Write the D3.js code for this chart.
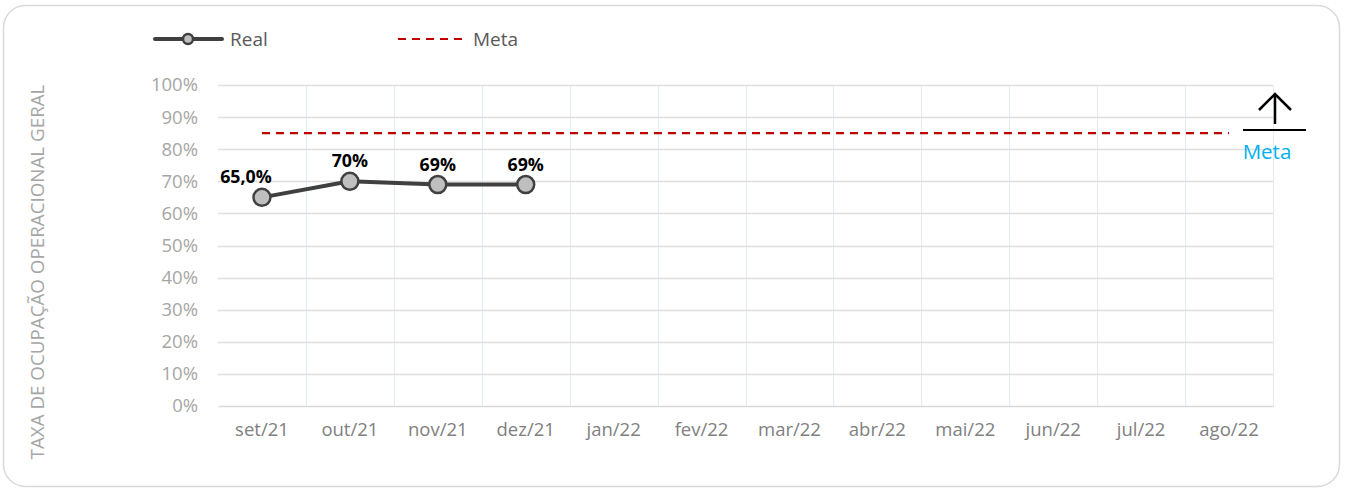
<!DOCTYPE html>
<html>
<head>
<meta charset="utf-8">
<script src="https://cdn.jsdelivr.net/npm/d3@7"></script>
<style>
  body { margin: 0; background: #fff; }
  svg text { font-family: "Open Sans", "Noto Sans", sans-serif; }
</style>
</head>
<body>
<div id="chart"></div>
<script>
var months = ["set/21","out/21","nov/21","dez/21","jan/22","fev/22","mar/22","abr/22","mai/22","jun/22","jul/22","ago/22"];
var real = [0.65, 0.70, 0.69, 0.69];
var realLabels = ["65,0%", "70%", "69%", "69%"];
var meta = [0.85,0.85,0.85,0.85,0.85,0.85,0.85,0.85,0.85,0.85,0.85,0.85];
var yTicks = [0,0.1,0.2,0.3,0.4,0.5,0.6,0.7,0.8,0.9,1];

var W = 1345, H = 490;
var margin = {top: 85, right: 72, bottom: 84, left: 218},
    width = W - margin.left - margin.right,
    height = H - margin.top - margin.bottom;

var svg = d3.select("#chart").append("svg")
    .attr("width", W)
    .attr("height", H);

// outer frame
svg.append("rect")
    .attr("x", 3.5).attr("y", 5.5)
    .attr("width", 1336).attr("height", 481)
    .attr("rx", 22).attr("ry", 22)
    .attr("fill", "#fff")
    .attr("stroke", "#d9d9d9")
    .attr("stroke-width", 1.5);

var g = svg.append("g")
    .attr("transform", "translate(" + margin.left + "," + margin.top + ")");

var x = d3.scaleBand().domain(months).range([0, width]);
var y = d3.scaleLinear().domain([0, 1]).range([height, 0]);

// vertical gridlines
g.selectAll(".vgrid")
    .data(months.slice(1).concat(["end"]))
    .enter().append("line")
    .attr("x1", function(d, i) { return Math.round(x.step() * (i + 1)) + 0.5; })
    .attr("x2", function(d, i) { return Math.round(x.step() * (i + 1)) + 0.5; })
    .attr("y1", 0).attr("y2", height)
    .attr("stroke", "#ddeef8")
    .attr("stroke-width", 1);

// horizontal gridlines
g.selectAll(".hgrid")
    .data(yTicks.slice(1))
    .enter().append("line")
    .attr("x1", 0).attr("x2", width)
    .attr("y1", function(d) { return Math.round(y(d)) + 0.5; })
    .attr("y2", function(d) { return Math.round(y(d)) + 0.5; })
    .attr("stroke", "#e0e0e0")
    .attr("stroke-width", 1.3);

// y axis
var yAxis = d3.axisLeft(y).tickValues(yTicks).tickSize(0).tickPadding(20)
    .tickFormat(function(d) { return Math.round(d * 100) + "%"; });
var ya = g.append("g").call(yAxis);
ya.select(".domain").remove();
ya.selectAll("text").attr("fill", "#a6a6a6").style("font-size", "18.5px");

// x axis
var xAxis = d3.axisBottom(x).tickSize(0).tickPadding(17);
var xa = g.append("g").attr("transform", "translate(0," + height + ")").call(xAxis);
xa.select(".domain").attr("stroke", "#d9d9d9").attr("stroke-width", 1.5);
xa.selectAll("text").attr("fill", "#808080").style("font-size", "18.5px");

// y title
svg.append("text")
    .attr("transform", "translate(44,272) rotate(-90)")
    .attr("text-anchor", "middle")
    .attr("fill", "#a6a6a6")
    .style("font-size", "18.8px")
    .text("TAXA DE OCUPAÇÃO OPERACIONAL GERAL");

// meta line
var metaLine = d3.line()
    .x(function(d, i) { return x(months[i]) + x.bandwidth() / 2; })
    .y(function(d) { return y(d); });
g.append("path")
    .datum(meta)
    .attr("fill", "none")
    .attr("stroke", "#c00000")
    .attr("stroke-width", 2.2)
    .attr("stroke-dasharray", "8,6")
    .attr("d", metaLine);

// real line
var line = d3.line()
    .x(function(d, i) { return x(months[i]) + x.bandwidth() / 2; })
    .y(function(d) { return y(d); });
g.append("path")
    .datum(real)
    .attr("fill", "none")
    .attr("stroke", "#404040")
    .attr("stroke-width", 4)
    .attr("stroke-linejoin", "round")
    .attr("d", line);

g.selectAll(".pt")
    .data(real)
    .enter().append("circle")
    .attr("cx", function(d, i) { return x(months[i]) + x.bandwidth() / 2; })
    .attr("cy", function(d) { return y(d); })
    .attr("r", 8.5)
    .attr("fill", "#bfbfbf")
    .attr("stroke", "#404040")
    .attr("stroke-width", 2.5);

g.selectAll(".lbl")
    .data(real)
    .enter().append("text")
    .attr("x", function(d, i) { return x(months[i]) + x.bandwidth() / 2 + (i == 0 ? -16 : 0); })
    .attr("y", function(d) { return y(d) - 14; })
    .attr("text-anchor", "middle")
    .attr("fill", "#000")
    .style("font-size", "17.8px")
    .style("font-weight", "bold")
    .text(function(d, i) { return realLabels[i]; });

// legend
var leg = svg.append("g");
leg.append("line").attr("x1", 155).attr("x2", 222).attr("y1", 39).attr("y2", 39)
    .attr("stroke", "#404040").attr("stroke-width", 4).attr("stroke-linecap", "round");
leg.append("circle").attr("cx", 188).attr("cy", 39).attr("r", 5)
    .attr("fill", "#bfbfbf").attr("stroke", "#404040").attr("stroke-width", 2.5);
leg.append("text").attr("x", 230).attr("y", 46).attr("fill", "#595959")
    .style("font-size", "19px").text("Real");
leg.append("line").attr("x1", 398).attr("x2", 464).attr("y1", 39).attr("y2", 39)
    .attr("stroke", "#c00000").attr("stroke-width", 2.2).attr("stroke-dasharray", "8,6");
leg.append("text").attr("x", 473).attr("y", 46).attr("fill", "#595959")
    .style("font-size", "19px").text("Meta");

// direction marker
var ar = svg.append("g").attr("stroke", "#000").attr("stroke-width", 2.5).attr("fill", "none");
ar.append("line").attr("x1", 1275).attr("x2", 1275).attr("y1", 94).attr("y2", 124);
ar.append("polyline").attr("points", "1259,110 1275,94 1291,110");
ar.append("line").attr("x1", 1243).attr("x2", 1306).attr("y1", 130).attr("y2", 130).attr("stroke-width", 2);
svg.append("text").attr("x", 1267).attr("y", 159).attr("text-anchor", "middle")
    .attr("fill", "#00b0f0").style("font-size", "20.5px").text("Meta");
</script>
</body>
</html>
